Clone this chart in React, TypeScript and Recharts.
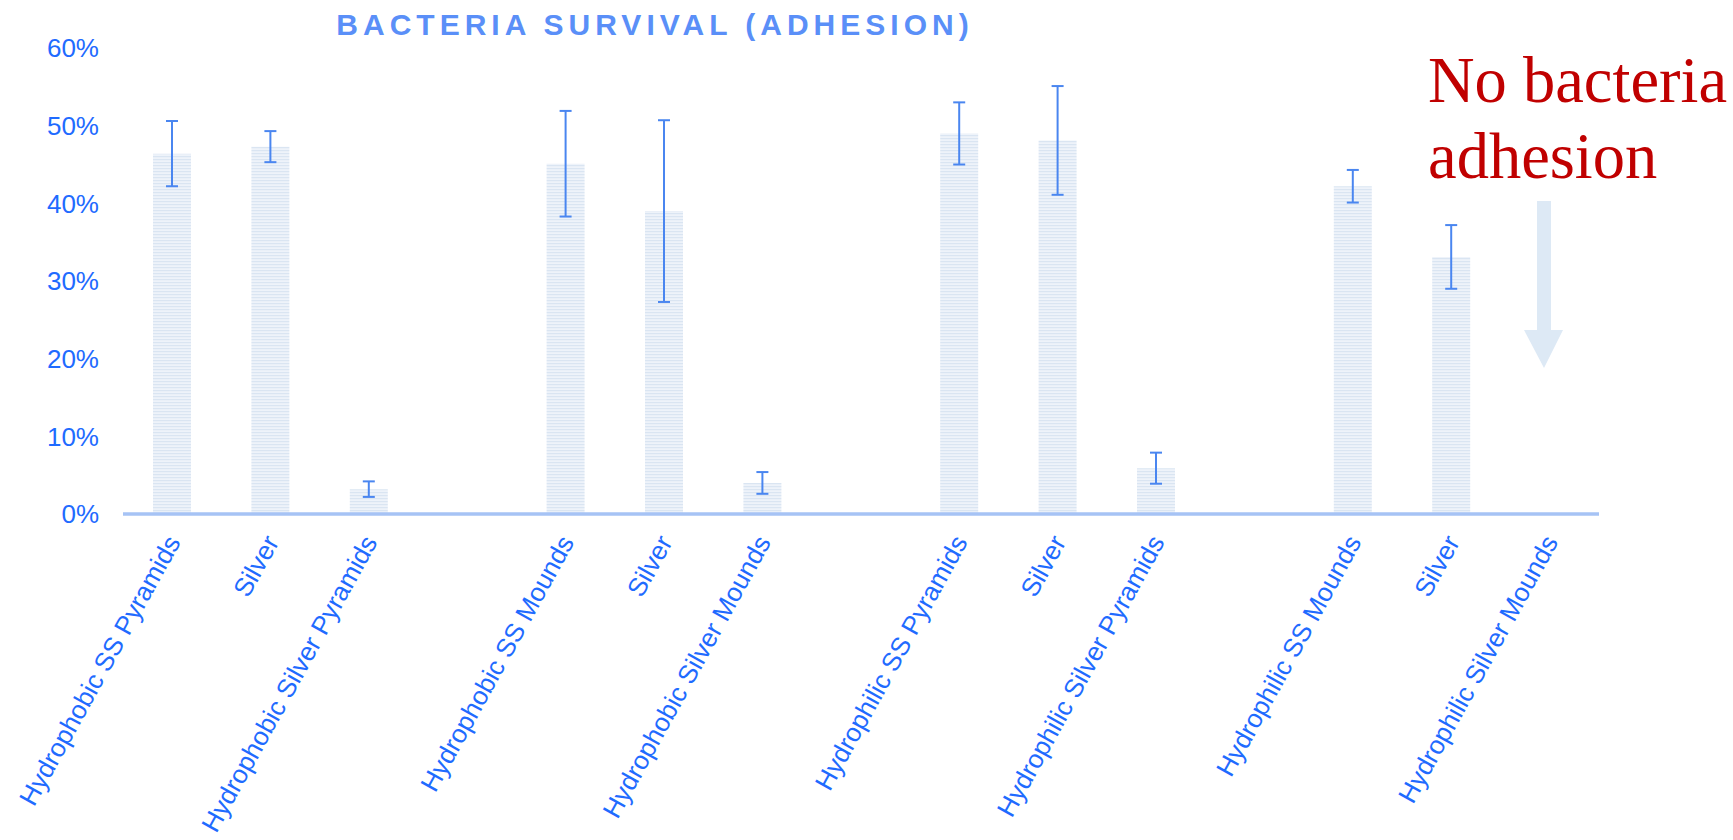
import { BarChart, Bar, XAxis, YAxis, ErrorBar } from 'recharts'

// 15 slots on the axis, with empty ones between the four groups
const categories = [
  'Hydrophobic SS Pyramids', 'Silver', 'Hydrophobic Silver Pyramids', '',
  'Hydrophobic SS Mounds', 'Silver', 'Hydrophobic Silver Mounds', '',
  'Hydrophilic SS Pyramids', 'Silver', 'Hydrophilic Silver Pyramids', '',
  'Hydrophilic SS Mounds', 'Silver', 'Hydrophilic Silver Mounds',
]
const survival = [46.4, 47.3, 3.2, null, 45.1, 39.0, 4.0, null, 49.0, 48.1, 5.9, null, 42.2, 33.1, 0]
const errors = [4.2, 2.0, 1.0, null, 6.8, 11.7, 1.4, null, 4.0, 7.0, 2.0, null, 2.1, 4.1, null]
const yTicks = [0, 10, 20, 30, 40, 50, 60]

const data = categories.map((name, i) => ({ slot: i, name, survival: survival[i], err: errors[i] }))

const BLUE = '#1f6bff'
const FONT = '"Liberation Sans", Arial, sans-serif'

function CategoryTick({ x, y, payload }: any) {
  const label = categories[payload.value] ?? ''
  if (!label) return null
  return (
    <text
      transform={`translate(${x + 9},${y + 20}) rotate(-61)`}
      textAnchor="end"
      fill={BLUE}
      fontSize={26}
      fontFamily={FONT}
    >
      {label}
    </text>
  )
}

export default function App() {
  return (
    <div style={{ position: 'fixed', left: 0, top: 0, width: 1733, height: 840, background: '#fff' }}>
      <BarChart
        width={1733}
        height={840}
        data={data}
        margin={{ top: 48, right: 134, bottom: 0, left: 0 }}
        barCategoryGap={0}
      >
        <defs>
          <pattern id="stripes" width="4" height="3" patternUnits="userSpaceOnUse">
            <rect width="4" height="3" fill="#eef3fa" />
            <rect width="4" height="1.2" fill="#dae5f2" />
          </pattern>
        </defs>
        <XAxis
          dataKey="slot"
          type="category"
          interval={0}
          height={326}
          tickLine={false}
          axisLine={{ stroke: '#a6c3f5', strokeWidth: 3.5 }}
          tick={<CategoryTick />}
        />
        <YAxis
          width={123}
          domain={[0, 60]}
          ticks={yTicks}
          axisLine={false}
          tickLine={false}
          tickMargin={18}
          tickFormatter={(v: number) => `${v}%`}
          tick={{ fill: BLUE, fontSize: 26, fontFamily: FONT }}
        />
        <Bar dataKey="survival" fill="url(#stripes)" barSize={38} isAnimationActive={false}>
          <ErrorBar dataKey="err" width={6} strokeWidth={2} stroke="#4a86f0" />
        </Bar>
      </BarChart>
      <svg width={1733} height={840} style={{ position: 'absolute', left: 0, top: 0, pointerEvents: 'none' }}>
        <text
          x={655}
          y={35}
          textAnchor="middle"
          fill="#5a8ff8"
          fontSize={30}
          fontWeight="bold"
          letterSpacing={5}
          fontFamily={FONT}
        >
          BACTERIA SURVIVAL (ADHESION)
        </text>
        <text x={1428} y={102} fill="#c00000" fontSize={64.5} fontFamily='"Liberation Serif", "Times New Roman", serif'>
          No bacteria
        </text>
        <text x={1428} y={178} fill="#c00000" fontSize={64.5} fontFamily='"Liberation Serif", "Times New Roman", serif'>
          adhesion
        </text>
        <polygon
          points="1537,201 1551,201 1551,330 1563,330 1544,368 1524,330 1537,330"
          fill="#dde9f5"
        />
      </svg>
    </div>
  )
}
